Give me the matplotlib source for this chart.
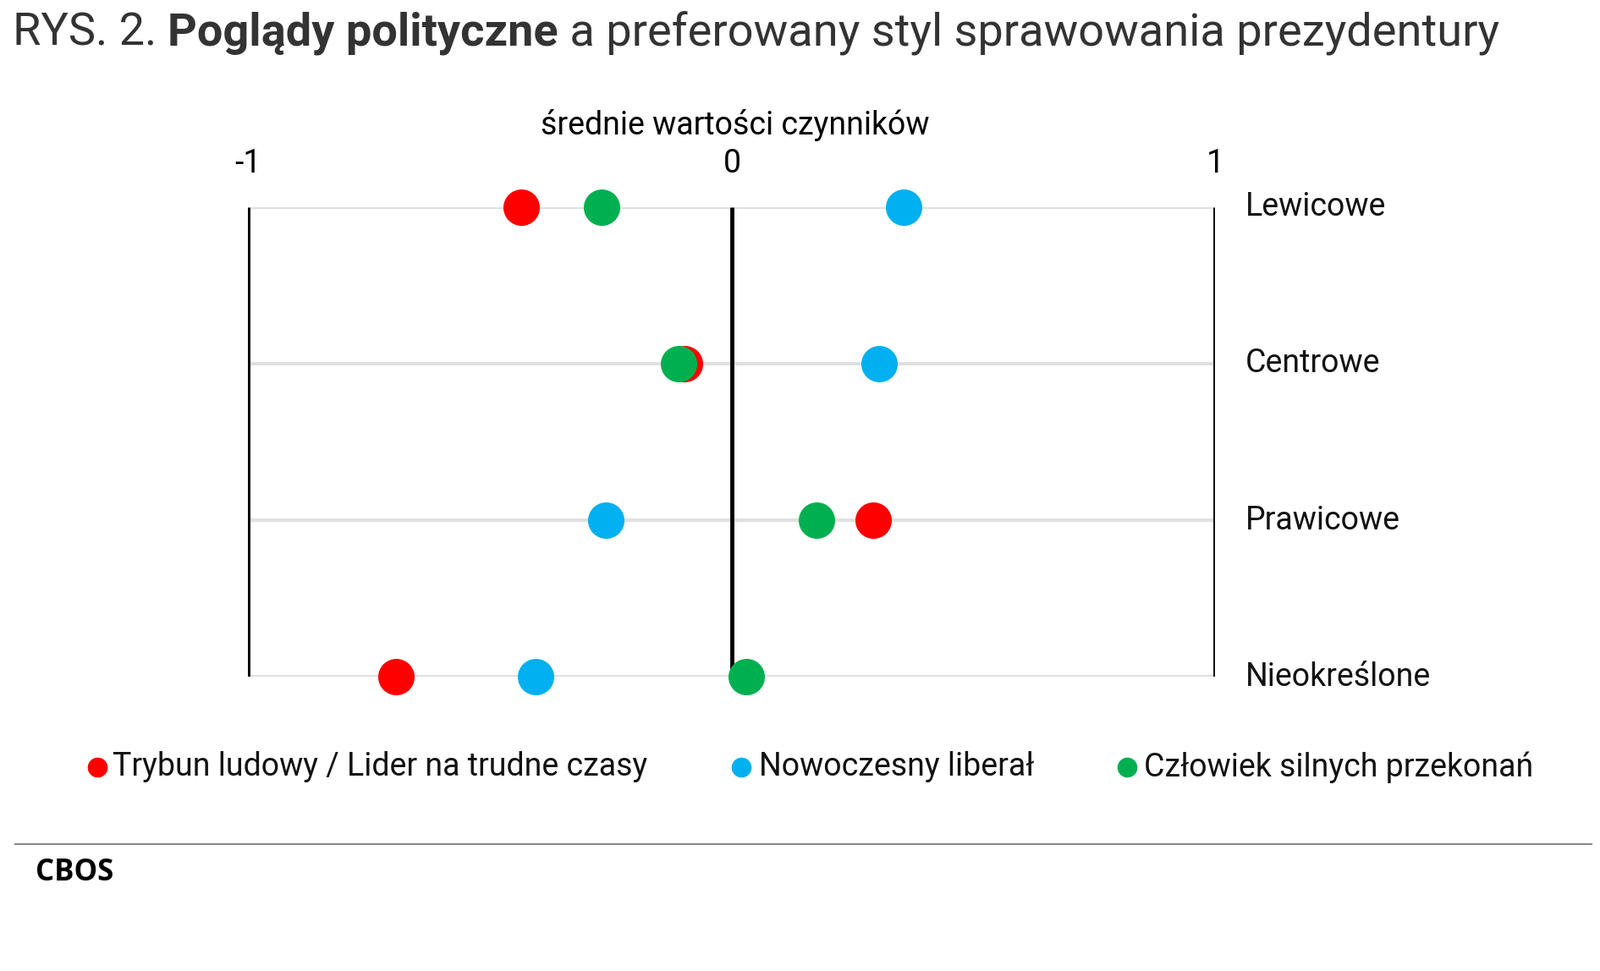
import matplotlib
matplotlib.use("Agg")
import matplotlib.pyplot as plt
from matplotlib.lines import Line2D

categories = ["Lewicowe", "Centrowe", "Prawicowe", "Nieokreślone"]
series_names = ["Trybun ludowy / Lider na trudne czasy", "Nowoczesny liberał", "Człowiek silnych przekonań"]
trybun = [-0.435, -0.098, 0.293, -0.694]
liberal = [0.355, 0.305, -0.26, -0.405]
czlowiek = [-0.27, -0.11, 0.176, 0.03]
colors = ["#FF0000", "#00B0F0", "#00B050"]
ticks = [-1, 0, 1]
tick_labels = ["-1", "0", "1"]

W, H = 1560, 947  # display coordinates of reference
def fx(x): return x / W
def fy(y): return 1 - y / H

plt.rcParams["font.family"] = "Roboto"
fig = plt.figure(figsize=(18.91, 11.48), dpi=100)

ax = fig.add_axes([fx(242), fy(660), fx(1185) - fx(242), fy(202) - fy(660)])
ax.set_xlim(-1, 1)
ax.set_ylim(len(categories) - 1, 0)
ax.axis("off")
for i, c in enumerate(categories):
    ax.plot([-1, 1], [i, i], color="#E0E0E0", lw=3, zorder=1)
    ax.text(1.062, i, c, fontsize=27, va="center", ha="left", color="#111")
for t in ticks:
    ax.plot([t, t], [0, len(categories) - 1], color="black", lw=3.5, zorder=2, solid_capstyle="butt")
for vals, col in zip([trybun, liberal, czlowiek], colors):
    ax.scatter(vals, range(len(categories)), s=31 ** 2, color=col, zorder=3, clip_on=False, linewidths=0)

for t, lab in zip(ticks, tick_labels):
    fig.text(fx(242 + (t + 1) * 471.5), fy(160), lab, fontsize=27, ha="center", va="center")
fig.text(fx(717), fy(122), "średnie wartości czynników", fontsize=27, ha="center", va="center")

# title with mixed weight
parts = [("RYS. 2. ", "normal"), ("Poglądy polityczne", "bold"), (" a preferowany styl sprawowania prezydentury", "normal")]
fig.canvas.draw()
r = fig.canvas.get_renderer()
x = fx(12)
for txt, w in parts:
    t = fig.text(x, fy(32), txt, fontsize=39, fontweight=w, color="#333333", ha="left", va="center")
    bb = t.get_window_extent(renderer=r)
    x += bb.width / fig.bbox.width

# legend
leg_pos = [(95, 110), (723, 740), (1099, 1115)]
for (mx, tx), name, col in zip(leg_pos, series_names, colors):
    fig.add_artist(Line2D([fx(mx)], [fy(748)], marker="o", markersize=16, color=col, lw=0))
    fig.text(fx(tx), fy(748), name, fontsize=27, ha="left", va="center", color="#111")

fig.add_artist(Line2D([fx(15), fx(1552)], [fy(823), fy(823)], color="#888888", lw=1.5))
fig.text(fx(35), fy(851), "CBOS", fontsize=25, fontweight="bold", family="Open Sans", ha="left", va="center")

fig.savefig("out.png", dpi=100, facecolor="white")
